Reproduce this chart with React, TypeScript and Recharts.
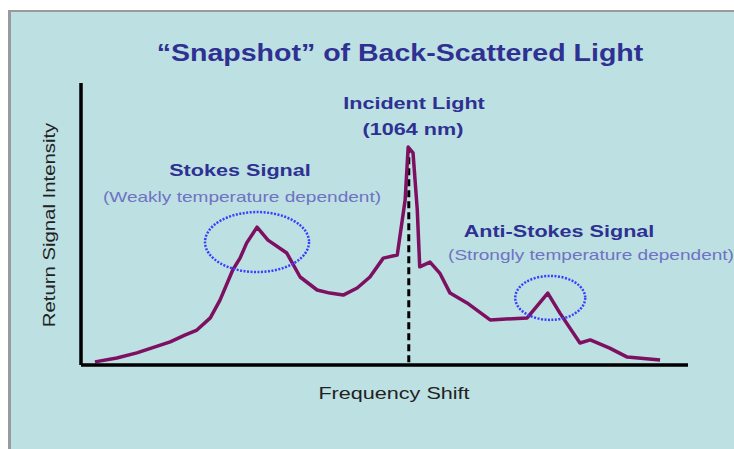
import { LineChart, Line, XAxis, YAxis, ReferenceLine, ReferenceDot } from "recharts";

// frequency shift (arbitrary units) and return intensity
const shift = [2.3, 5.9, 9.2, 12.2, 14.7, 17.1, 19.1, 21.3, 22.9, 25.0, 26.2, 27.3, 29.0, 30.8, 33.9, 36.1, 38.9, 41.0, 43.2, 45.5, 47.6, 49.8, 52.1, 53.4, 53.9, 54.7, 55.4, 55.8, 57.5, 59.1, 60.8, 63.6, 67.4, 73.5, 76.9, 78.9, 82.2, 83.9, 87.1, 90.0, 95.4];
const intensity = [1.1, 2.5, 4.3, 6.4, 8.2, 10.6, 12.4, 16.7, 23.0, 33.7, 37.9, 43.3, 48.9, 44.3, 39.7, 31.2, 26.6, 25.5, 24.8, 27.3, 31.2, 37.9, 39.0, 58.5, 77.3, 75.2, 55.0, 34.8, 36.5, 32.6, 25.5, 22.0, 16.0, 16.7, 25.5, 18.4, 7.8, 8.9, 6.0, 2.8, 1.8];

const incidentShift = 54.0;
const incidentTop = 77;

const stokesCenter = { x: 29.0, y: 43.6 };
const antiStokesCenter = { x: 77.3, y: 23.8 };

const data = shift.map((x, i) => ({ x, y: intensity[i] }));

const navy = "#2e3192";
const soft = "#7072c4";
const stretch = 1.27; // the source art is stretched sideways

const ellipse = (rx: number, ry: number) => (props: any) => (
  <ellipse
    cx={props.cx}
    cy={props.cy}
    rx={rx}
    ry={ry}
    fill="none"
    stroke="#3d3dff"
    strokeWidth={2.5}
    strokeDasharray="2 1.5"
  />
);

function Note({ x, y, children, style, rotate = 0 }: { x: number; y: number; children: any; style?: any; rotate?: number }) {
  return (
    <div
      style={{
        position: "absolute",
        left: x,
        top: y,
        transform: `translate(-50%, -50%) rotate(${rotate}deg) scaleX(${stretch})`,
        whiteSpace: "nowrap",
        textAlign: "center",
        lineHeight: 1,
        ...style,
      }}
    >
      {children}
    </div>
  );
}

export default function App() {
  const bold = { fontWeight: 700, color: navy, fontSize: 17 };
  const light = { color: soft, fontSize: 15 };
  return (
    <div
      style={{
        position: "absolute",
        left: 0,
        top: 0,
        width: 734,
        height: 449,
        background: "#fff",
        fontFamily: "'Liberation Sans', Arial, sans-serif",
        overflow: "hidden",
      }}
    >
      <div
        style={{
          position: "absolute",
          left: 8,
          top: 10,
          width: 726,
          height: 439,
          background: "#bde0e3",
          borderLeft: "3px solid #9a9a9a",
          borderTop: "2px solid #9a9a9a",
          boxSizing: "border-box",
        }}
      />
      <div style={{ position: "absolute", left: 0, top: 0 }}>
        <LineChart width={734} height={449} data={data} margin={{ top: 83, right: 46, bottom: 64, left: 48 }}>
          <XAxis
            dataKey="x"
            type="number"
            domain={[0, 100]}
            height={20}
            tick={false}
            tickLine={false}
            axisLine={{ stroke: "#000", strokeWidth: 3.5 }}
          />
          <YAxis
            type="number"
            domain={[0, 100]}
            width={33}
            tick={false}
            tickLine={false}
            axisLine={{ stroke: "#000", strokeWidth: 3.5 }}
          />
          <ReferenceLine
            segment={[
              { x: incidentShift, y: 1 },
              { x: incidentShift, y: incidentTop },
            ]}
            stroke="#000"
            strokeWidth={3}
            strokeDasharray="7 4"
          />
          <Line
            type="linear"
            dataKey="y"
            stroke="#7d1060"
            strokeWidth={3.5}
            strokeLinejoin="round"
            dot={false}
            isAnimationActive={false}
          />
          <ReferenceDot x={stokesCenter.x} y={stokesCenter.y} shape={ellipse(52, 30)} />
          <ReferenceDot x={antiStokesCenter.x} y={antiStokesCenter.y} shape={ellipse(35, 22)} />
        </LineChart>
      </div>
      <Note x={400} y={53} style={{ fontWeight: 700, color: navy, fontSize: 23, transform: "translate(-50%, -50%) scaleX(1.24)" }}>
        “Snapshot” of Back-Scattered Light
      </Note>
      <Note x={414} y={103} style={bold}>Incident Light</Note>
      <Note x={413} y={129} style={bold}>(1064 nm)</Note>
      <Note x={240} y={170} style={bold}>Stokes Signal</Note>
      <Note x={242} y={196} style={light}>(Weakly temperature dependent)</Note>
      <Note x={559} y={231} style={bold}>Anti-Stokes Signal</Note>
      <Note x={591} y={254} style={light}>(Strongly temperature dependent)</Note>
      <Note x={394} y={393} style={{ color: "#222", fontSize: 17 }}>Frequency Shift</Note>
      <Note x={50} y={225} rotate={-90} style={{ color: "#222", fontSize: 16 }}>Return Signal Intensity</Note>
    </div>
  );
}
